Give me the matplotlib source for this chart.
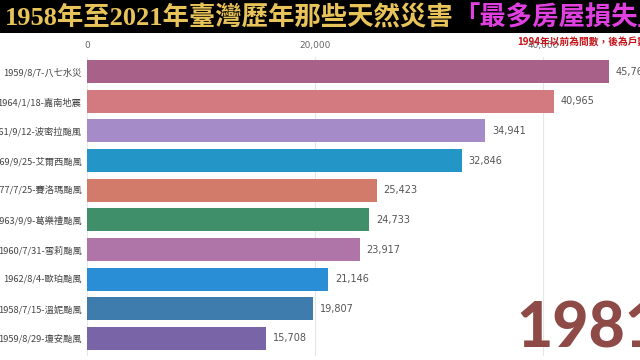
import matplotlib.pyplot as plt
from matplotlib.patches import Rectangle

# Data (year 1981)
labels = ['1959/8/7-八七水災', '1964/1/18-嘉南地震', '1961/9/12-波密拉颱風',
          '1969/9/25-艾爾西颱風', '1977/7/25-賽洛瑪颱風', '1963/9/9-葛樂禮颱風',
          '1960/7/31-雪莉颱風', '1962/8/4-歐珀颱風', '1958/7/15-溫妮颱風',
          '1959/8/29-瓊安颱風']
values = [45769, 40965, 34941, 32846, 25423, 24733, 23917, 21146, 19807, 15708]
colors = ['#a8628a', '#d27a80', '#a68bc9', '#2495c7', '#d27b6b',
          '#3f8f6a', '#b075a8', '#2a8ed6', '#3e7cae', '#7a64a8']
xticks = [0, 20000, 40000]
year = '1981'

cjk = ['Noto Sans CJK TC', 'DejaVu Sans']

fig = plt.figure(figsize=(6.4, 3.6), dpi=100)
fig.patch.set_facecolor('white')

# title band
fig.patches.append(Rectangle((0, 1 - 33 / 360), 1, 33 / 360, transform=fig.transFigure,
                             facecolor='black', edgecolor='none', zorder=0))
t1 = fig.text(5 / 640, 1 - 18 / 360, '1958年至2021年臺灣歷年那些天然災害', color='#e8c35a',
              fontsize=19, fontweight='bold', va='center', ha='left',
              family=['Liberation Serif', 'Noto Sans CJK TC'])
fig.canvas.draw()
bb = t1.get_window_extent()
fig.text(bb.x1 / 640, 1 - 18 / 360, '「最多房屋損失」', color='#e040e0', fontsize=19,
         fontweight='bold', va='center', ha='left', family=cjk)

ax = fig.add_axes([87 / 640, 1 - 356 / 360, 1 - 87 / 640, 299 / 360])
pos = list(range(len(values)))
ax.barh(pos, values, height=0.78, color=colors, zorder=2)
ax.set_xlim(0, 48500)
ax.set_ylim(9.59, -0.49)
ax.set_yticks(pos)
ax.set_yticklabels(labels, family=cjk, fontsize=6.7, color='#444444')
ax.set_xticks(xticks)
ax.set_xticklabels([f'{v:,}' for v in xticks], fontsize=6.5, color='#666666')
ax.xaxis.tick_top()
ax.tick_params(axis='x', length=0, pad=5)
ax.tick_params(axis='y', length=0, pad=4)
ax.grid(axis='x', color='#e6e6e6', linewidth=0.8, zorder=0)
for s in ax.spines.values():
    s.set_visible(False)

for p, v in zip(pos, values):
    ax.text(v + 600, p, f'{v:,}', va='center', ha='left', fontsize=7,
            color='#555555', clip_on=False)

fig.text(517 / 640, 1 - 42 / 360, '1994年以前為間數，後為戶數', color='#c4141a',
         fontsize=7, fontweight='bold', va='center', ha='left', family=cjk, zorder=5)

fig.text(516 / 640, 1 - 347 / 360, year, color='#8e4a47', fontsize=45,
         fontweight='black', va='baseline', ha='left', family='Lato', zorder=5)

fig.savefig('out.png', dpi=100, facecolor='white')
